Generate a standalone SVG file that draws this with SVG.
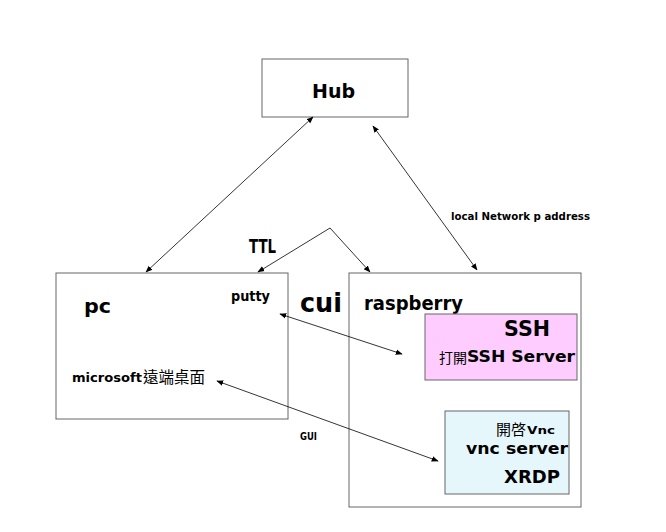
<svg xmlns="http://www.w3.org/2000/svg" width="666" height="532" viewBox="0 0 666 532">
<style>
.box{fill:#fff;stroke:#666;stroke-width:1}
.t{font-family:"DejaVu Sans","Liberation Sans",sans-serif;font-weight:bold;fill:#000}
.k{font-family:"Noto Sans CJK TC","Noto Sans CJK SC",sans-serif;font-weight:normal;fill:#000}
.c{stroke:#000;stroke-width:0.8;fill:none}
</style>
<defs>
<marker id="ah" viewBox="0 0 10 10" refX="9" refY="5" markerWidth="7" markerHeight="7" orient="auto-start-reverse" markerUnits="userSpaceOnUse">
<path d="M0,1 L10,5 L0,9 z" fill="#000"/>
</marker>
</defs>
<rect width="666" height="532" fill="#fff"/>
<g id="hub">
<rect class="box" x="262" y="59" width="146" height="58"/>
<text class="t" x="312" y="98" font-size="20" textLength="43" lengthAdjust="spacingAndGlyphs">Hub</text>
</g>
<g id="pc">
<rect class="box" x="56" y="273" width="232" height="146"/>
<text class="t" x="84" y="313" font-size="20" textLength="27" lengthAdjust="spacingAndGlyphs">pc</text>
<text class="t" x="231" y="301" font-size="14" textLength="39" lengthAdjust="spacingAndGlyphs">putty</text>
<text class="t" x="72" y="382" font-size="13" textLength="70" lengthAdjust="spacingAndGlyphs">microsoft</text>
<text class="k" x="143" y="383" font-size="15.5">遠端桌面</text>
</g>
<g id="raspberry">
<rect class="box" x="349" y="273" width="232" height="234"/>
<text class="t" x="364" y="310" font-size="19" textLength="99" lengthAdjust="spacingAndGlyphs">raspberry</text>
</g>
<g id="ssh">
<rect x="425" y="314" width="152" height="66" fill="#FFCCFF" stroke="#666" stroke-width="1"/>
<text class="t" x="504" y="336" font-size="21" textLength="46" lengthAdjust="spacingAndGlyphs">SSH</text>
<text class="k" x="439" y="363" font-size="14">打開</text>
<text class="t" x="467" y="362" font-size="16" textLength="108" lengthAdjust="spacingAndGlyphs">SSH Server</text>
</g>
<g id="vnc">
<rect x="445" y="411" width="124" height="83" fill="#E6F7FB" stroke="#666" stroke-width="1"/>
<text class="k" x="496" y="435" font-size="15">開啓</text>
<text class="t" x="527" y="434" font-size="11" textLength="28" lengthAdjust="spacingAndGlyphs">Vnc</text>
<text class="t" x="466" y="454" font-size="16" textLength="102" lengthAdjust="spacingAndGlyphs">vnc server</text>
<text class="t" x="504" y="483" font-size="18" textLength="56" lengthAdjust="spacingAndGlyphs">XRDP</text>
</g>
<g id="labels">
<text class="t" x="249" y="253" font-size="19" textLength="27" lengthAdjust="spacingAndGlyphs">TTL</text>
<text class="t" x="300" y="312" font-size="26" textLength="42" lengthAdjust="spacingAndGlyphs">cui</text>
<text class="t" x="451" y="220" font-size="10" textLength="139" lengthAdjust="spacingAndGlyphs">local Network p address</text>
<text class="t" x="300" y="440" font-size="11" textLength="17" lengthAdjust="spacingAndGlyphs">GUI</text>
</g>
<g id="connectors">
<line class="c" x1="313" y1="117" x2="146" y2="272" marker-start="url(#ah)" marker-end="url(#ah)"/>
<line class="c" x1="373" y1="126" x2="477" y2="270" marker-start="url(#ah)" marker-end="url(#ah)"/>
<polyline class="c" points="258,272 330,228 370,272" marker-start="url(#ah)" marker-end="url(#ah)"/>
<line class="c" x1="280" y1="314" x2="402" y2="354" marker-start="url(#ah)" marker-end="url(#ah)"/>
<line class="c" x1="217" y1="381" x2="438" y2="461" marker-start="url(#ah)" marker-end="url(#ah)"/>
</g>
</svg>
